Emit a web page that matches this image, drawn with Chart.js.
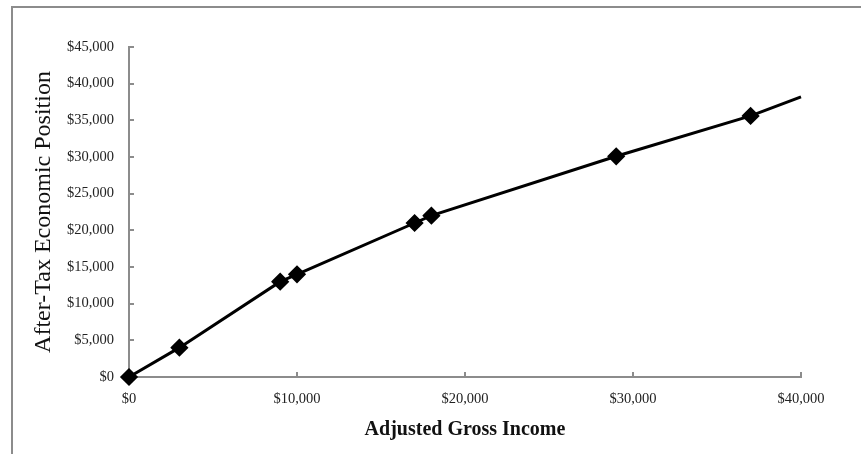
<!DOCTYPE html>
<html>
<head>
<meta charset="utf-8">
<script src="https://cdn.jsdelivr.net/npm/chart.js@4"></script>
<style>
    body { margin: 0; overflow: hidden; background: #fff; }
    #wrap { position: relative; width: 861px; height: 454px; }
    #frame { position: absolute; left: 11px; top: 6px; width: 900px; height: 500px;
             border: 2px solid #8c8c8c; pointer-events: none; }
</style>
</head>
<body>
<div id="wrap">
    <canvas id="myChart" width="861" height="454"></canvas>
    <div id="frame"></div>
</div>
<script>
// adjusted gross income vs after-tax position
const income = [0, 3000, 9000, 10000, 17000, 18000, 29000, 37000, 40000];
const afterTax = [0, 4000, 13000, 14000, 21000, 22000, 30100, 35600, 38200];
const markerSizes = [7, 7, 7, 7, 7, 7, 7, 7, 0];

const points = income.map((x, i) => ({ x: x, y: afterTax[i] }));

const money = v => '$' + Number(v).toLocaleString('en-US');

const data = {
    datasets: [{
        label: 'After-Tax',
        data: points,
        borderColor: '#000',
        backgroundColor: '#000',
        borderWidth: 3,
        pointStyle: 'rectRot',
        pointRadius: markerSizes,
        pointHoverRadius: markerSizes,
        tension: 0,
        clip: false
    }]
};

const config = {
    type: 'scatter',
    data: data,
    options: {
        responsive: false,
        animation: false,
        showLine: true,
        layout: {
            padding: { left: 14, top: 47, right: 60, bottom: 12 }
        },
        plugins: {
            legend: { display: false },
            tooltip: { enabled: false }
        },
        scales: {
            x: {
                min: 0,
                max: 40000,
                ticks: {
                    stepSize: 10000,
                    color: '#222',
                    font: { family: 'Liberation Serif', size: 14.5 },
                    callback: money,
                    padding: 18
                },
                // tick marks point inwards, like the original
                grid: { drawOnChartArea: false, color: '#8c8c8c', tickLength: -5, lineWidth: 2 },
                border: { color: '#8c8c8c', width: 2 },
                title: {
                    display: true,
                    text: 'Adjusted Gross Income',
                    color: '#111',
                    font: { family: 'Liberation Serif', size: 20, weight: 'bold' },
                    padding: { top: 16, bottom: 0 }
                },
                afterFit: s => { s.height = 65; }
            },
            y: {
                min: 0,
                max: 45000,
                ticks: {
                    stepSize: 5000,
                    color: '#222',
                    font: { family: 'Liberation Serif', size: 14.5 },
                    callback: money,
                    padding: 20
                },
                grid: { drawOnChartArea: false, color: '#8c8c8c', tickLength: -5, lineWidth: 2 },
                border: { color: '#8c8c8c', width: 2 },
                title: {
                    display: true,
                    text: 'After-Tax Economic Position',
                    color: '#111',
                    font: { family: 'Liberation Serif', size: 24 },
                    padding: { top: 15, bottom: 0 }
                },
                afterFit: s => { s.width = 115; }
            }
        }
    }
};

// =================

var ctx = document.getElementById('myChart');
const myChart = new Chart(
        ctx,
        config
        );
</script>
</body>
</html>
